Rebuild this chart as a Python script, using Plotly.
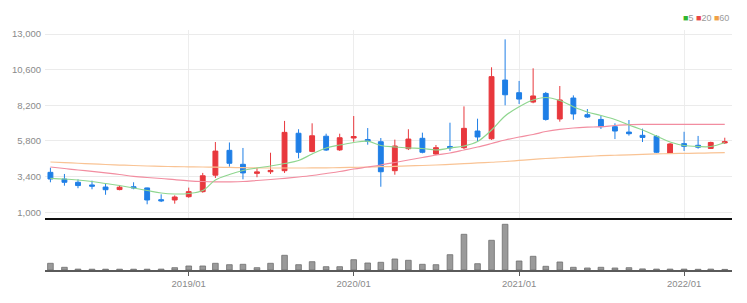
import plotly.graph_objects as go
import pandas as pd

dates = pd.date_range("2018-03-01", periods=50, freq="MS")

opens  = [3690, 3240, 3020, 2840, 2700, 2530, 2720, 2640, 1850, 1830,
          2050, 2390, 3500, 5170, 4230, 3620, 3730, 3800, 6320, 5100,
          6120, 5200, 6000, 5900, 5750, 3800, 5280, 5980, 4920, 5430,
          5350, 6470, 5950, 9900, 9050, 8420, 9000, 7280, 8690, 7570,
          7250, 6760, 6400, 6180, 6110, 4970, 5620, 5510, 5300, 5670]
highs  = [4000, 3580, 3220, 3130, 2950, 2840, 3020, 2660, 2210, 2140,
          2660, 3650, 5730, 5700, 5330, 4000, 5010, 7150, 6590, 6990,
          6290, 6290, 7480, 6670, 6000, 5890, 6590, 6360, 5530, 7030,
          8130, 7300, 10760, 12640, 9840, 10690, 9100, 9500, 8870, 7950,
          7480, 6990, 7210, 6630, 6200, 5660, 6420, 6140, 5750, 6020]
lows   = [3020, 2790, 2620, 2550, 2180, 2480, 2550, 1540, 1690, 1580,
          1980, 2320, 3310, 4070, 3220, 3360, 3580, 3650, 4630, 5040,
          5130, 5130, 5750, 5550, 2720, 3530, 5190, 4970, 4840, 5130,
          5260, 5730, 5870, 8200, 8290, 8340, 7170, 7100, 7230, 7350,
          6610, 5930, 6160, 5730, 4990, 4950, 5130, 5280, 5260, 5600]
closes = [3240, 3020, 2800, 2760, 2520, 2690, 2640, 1830, 1770, 2030,
          2390, 3460, 5120, 4300, 3650, 3720, 3820, 6380, 5040, 6150,
          5190, 6020, 6100, 5780, 3730, 5460, 5930, 5040, 5350, 5330,
          6650, 6070, 10130, 8910, 8620, 8830, 7250, 8560, 7620, 7410,
          6760, 6470, 6290, 6040, 5040, 5600, 5440, 5380, 5700, 5750]
volumes = [670000, 270000, 90000, 80000, 80000, 80000, 80000, 80000, 90000, 230000,
           400000, 400000, 670000, 530000, 570000, 230000, 670000, 1470000, 530000, 830000,
           330000, 330000, 1030000, 700000, 770000, 1100000, 970000, 570000, 530000, 1530000,
           3570000, 630000, 2970000, 4570000, 900000, 1370000, 370000, 800000, 270000, 200000,
           270000, 200000, 230000, 110000, 90000, 90000, 90000, 70000, 90000, 60000]
ma5  = [3288, 3241, 3174, 3073, 2938, 2804, 2635, 2467, 2299, 2232,
        2265, 2467, 3174, 3544, 3813, 3981, 4116, 4284, 4486, 4924,
        5327, 5529, 5698, 5785, 5496, 5395, 5327, 5294, 5193, 5327,
        5462, 5765, 6539, 7481, 8107, 8558, 8726, 8524, 8107, 7750,
        7515, 7245, 6875, 6539, 6135, 5731, 5496, 5428, 5428, 5698]
ma20 = [4049, 3948, 3847, 3759, 3658, 3544, 3423, 3342, 3275, 3194,
        3120, 3073, 3053, 3053, 3073, 3140, 3207, 3288, 3376, 3477,
        3611, 3746, 3914, 4049, 4183, 4352, 4520, 4688, 4856, 4991,
        5193, 5395, 5630, 5866, 6068, 6236, 6438, 6586, 6673, 6727,
        6761, 6842, 6902, 6922, 6922, 6922, 6922, 6922, 6922, 6922]
ma60 = [4385, 4340, 4300, 4260, 4217, 4180, 4150, 4115, 4090, 4075,
        4060, 4050, 4035, 4020, 4000, 3985, 3980, 3980, 3980, 3985,
        3995, 4005, 4025, 4050, 4070, 4090, 4120, 4150, 4185, 4220,
        4270, 4320, 4370, 4420, 4490, 4560, 4620, 4670, 4720, 4765,
        4810, 4840, 4870, 4900, 4930, 4950, 4965, 4980, 4995, 5010]

price_ticks = [1000, 3400, 5800, 8200, 10600, 13000]
year_ticks = ["2019-01-01", "2020-01-01", "2021-01-01", "2022-01-01"]
year_labels = ["2019/01", "2020/01", "2021/01", "2022/01"]

RED = "#e8383d"
BLUE = "#1f7fe6"
FONT = "Liberation Sans Narrow, Arial Narrow, Liberation Sans, sans-serif"

fig = go.Figure()
fig.add_trace(go.Candlestick(
    x=dates, open=opens, high=highs, low=lows, close=closes,
    increasing=dict(line=dict(color=RED, width=1), fillcolor=RED),
    decreasing=dict(line=dict(color=BLUE, width=1), fillcolor=BLUE),
    whiskerwidth=0, xaxis="x", yaxis="y", showlegend=False, hoverinfo="skip"))
fig.add_trace(go.Scatter(x=dates, y=ma60, mode="lines", line=dict(color="#f9c394", width=1.2, shape="spline"),
                         xaxis="x", yaxis="y", showlegend=False, hoverinfo="skip"))
fig.add_trace(go.Scatter(x=dates, y=ma20, mode="lines", line=dict(color="#f28da0", width=1.2, shape="spline"),
                         xaxis="x", yaxis="y", showlegend=False, hoverinfo="skip"))
fig.add_trace(go.Scatter(x=dates, y=ma5, mode="lines", line=dict(color="#8fd68f", width=1.2, shape="spline"),
                         xaxis="x", yaxis="y", showlegend=False, hoverinfo="skip"))
fig.add_trace(go.Bar(x=dates, y=volumes, marker=dict(color="#9a9a9a", line=dict(color="#6e6e6e", width=0.8)),
                     width=12.5 * 86400000, xaxis="x2", yaxis="y2", showlegend=False, hoverinfo="skip"))

xr = ["2018-02-17", "2022-04-17"]
fig.update_layout(
    width=747, height=303,
    margin=dict(l=38, r=15, t=30, b=33),
    paper_bgcolor="white", plot_bgcolor="white",
    font=dict(family=FONT, size=9, color="#8a8a8a"),
    boxgap=0.45,
    xaxis=dict(domain=[0, 1], anchor="y", range=xr, rangeslider=dict(visible=False),
               tickvals=year_ticks, showticklabels=False, showgrid=True, gridcolor="#ededed",
               gridwidth=1, showline=True, linecolor="#111111", linewidth=1.6, zeroline=False),
    yaxis=dict(domain=[0.21875, 1], range=[650, 13269], tickvals=price_ticks, tickformat=",",
               showgrid=True, gridcolor="#ebebeb", gridwidth=1, zeroline=False, ticks="",
               tickfont=dict(family=FONT, size=9.5, color="#8a8a8a"), ticklabelstandoff=3),
    xaxis2=dict(domain=[0, 1], anchor="y2", range=xr, matches="x", tickvals=year_ticks, ticktext=year_labels,
                showgrid=False, showline=True, linecolor="#5a5a5a", linewidth=1.5, ticks="outside",
                ticklen=4, tickcolor="#5a5a5a", tickwidth=1, zeroline=False,
                tickfont=dict(family=FONT, size=9.5, color="#8a8a8a")),
    yaxis2=dict(domain=[0, 0.2083], range=[0, 5000000], showticklabels=False, showgrid=False,
                zeroline=False, showline=False, ticks=""),
    bargap=0.5,
)

fig.add_annotation(
    xref="paper", yref="paper", x=1, y=1, xanchor="right", yanchor="bottom", yshift=5, xshift=-1,
    showarrow=False,
    text='<span style="color:#2fb52f">■</span>5 <span style="color:#e84545">■</span>20 <span style="color:#f0a045">■</span>60',
    font=dict(family=FONT, size=9, color="#9a9a9a"))

fig.write_html("out.html")
